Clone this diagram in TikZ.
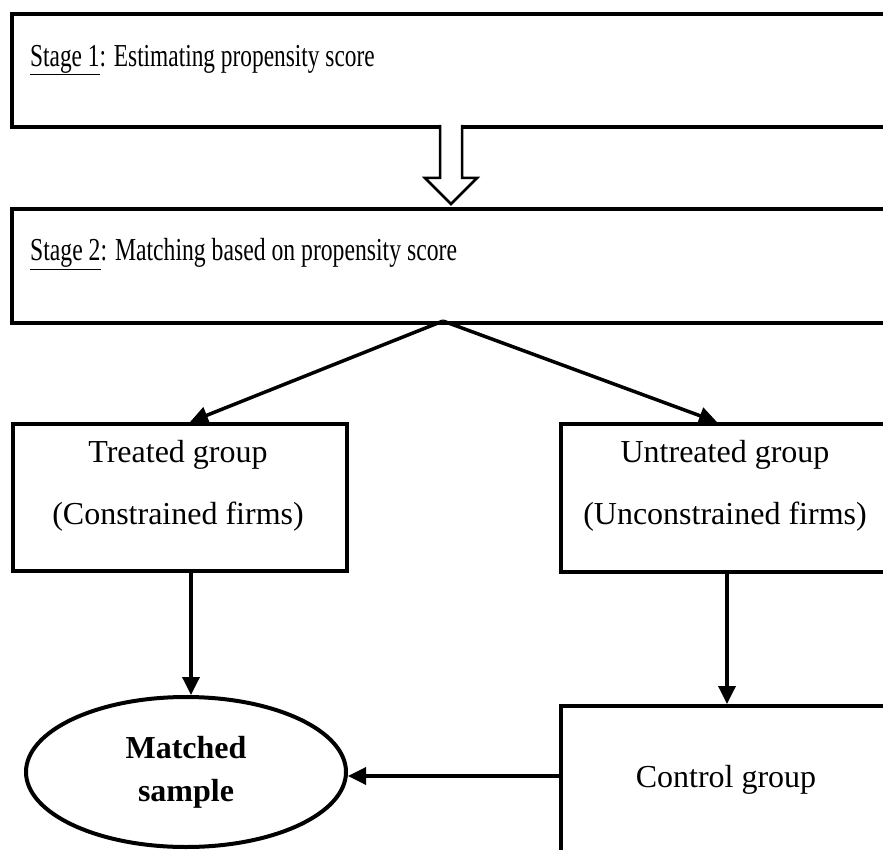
\documentclass[tikz,border=0pt]{standalone}
\usepackage{fontspec}
\usepackage{graphicx}
\setmainfont{Liberation Serif}
\usetikzlibrary{arrows.meta,shapes.geometric}
\begin{document}
\begin{tikzpicture}[x=1pt,y=-1pt,
  box/.style={draw,line width=4pt,anchor=north west,inner sep=0pt},
  txt/.style={inner sep=0pt,font=\fontsize{32}{40}\selectfont},
  arr/.style={line width=3.5pt,-{Triangle[length=18pt,width=17pt]}},
  hollow/.style={line width=2.5pt,fill=white,line join=miter}]
\useasboundingbox (0,0) rectangle (883,850);
\clip (0,0) rectangle (883,850);
% stage boxes (open to the right)
\node[box,minimum width=920pt,minimum height=113pt] (s1) at (10,12) {};
\node[box,minimum width=920pt,minimum height=114pt] (s2) at (10,207) {};
\node[txt,anchor=west] (t1) at (30,60) {\scalebox{0.73}[1]{\underline{Stage 1}: Estimating propensity score}};
\node[txt,anchor=west] (t2) at (30,254) {\scalebox{0.74}[1]{\underline{Stage 2}: Matching based on propensity score}};
% hollow arrow
\draw[hollow] (440,125) -- (440,178) -- (425,178) -- (451,204) -- (477,178) -- (462,178) -- (462,125);
% group boxes
\node[box,minimum width=334pt,minimum height=147pt] (tr) at (11,422) {};
\node[txt] (tr1) at (178,455) {Treated group};
\node[txt] (tr2) at (178,517) {(Constrained firms)};
\node[box,minimum width=400pt,minimum height=148pt] (un) at (559,422) {};
\node[txt] (un1) at (725,455) {Untreated group};
\node[txt] (un2) at (725,517) {(Unconstrained firms)};
\node[box,minimum width=400pt,minimum height=300pt] (ct) at (559,704) {};
\node[txt] (ct1) at (726,780) {Control group};
\node[draw,ellipse,line width=4pt,minimum width=320pt,minimum height=150pt,align=center,
      font=\fontsize{32}{43}\selectfont\bfseries] (ms) at (186,772) {Matched\\sample};
% connectors
\coordinate (fork) at (443,321);
\coordinate (trin) at (190,422);
\coordinate (unin) at (717,422);
\coordinate (trout) at (191,569);
\coordinate (unout) at (727,570);
\draw[arr] (fork) -- (trin);
\draw[arr] (fork) -- (unin);
\draw[arr] (trout) -- (trout |- ms.north);
\draw[arr] (unout) -- (unout |- ct.north);
\draw[arr] (ct.west |- 0,776) -- (ms.east |- 0,776);
\end{tikzpicture}
\end{document}
